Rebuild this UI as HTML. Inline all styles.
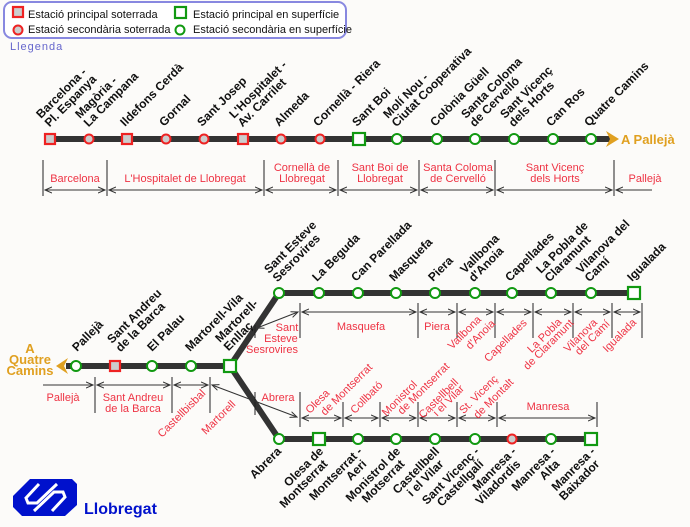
<!DOCTYPE html>
<html><head><meta charset="utf-8"><style>
html,body{margin:0;padding:0;background:#fcfbf9;}
svg{display:block;font-family:"Liberation Sans",Arial,sans-serif;}
.st{font-weight:bold;font-size:12px;fill:#111;}
.rd{font-size:11px;fill:#ee3344;}
.tk{stroke:#222;stroke-width:1;}
.dm{stroke:#333;stroke-width:1;fill:none;}
.gc{fill:#fff;stroke:#119911;stroke-width:2;}
.gs{fill:#fff;stroke:#119911;stroke-width:2.2;}
.rc{fill:#cccccc;stroke:#ee2222;stroke-width:2;}
.rs{fill:#cccccc;stroke:#ee2222;stroke-width:2.2;}
.ln{stroke:#333;stroke-width:6;fill:none;}
</style></head><body>
<svg width="690" height="527" viewBox="0 0 690 527" xmlns="http://www.w3.org/2000/svg">
<defs>
<marker id="ah" markerWidth="8" markerHeight="8" refX="7" refY="4" orient="auto-start-reverse" markerUnits="userSpaceOnUse">
<path d="M0,1 L7,4 L0,7" fill="none" stroke="#333" stroke-width="1"/></marker>
</defs>
<!-- Legend -->
<rect x="4" y="2" width="342" height="36" rx="8" fill="#fff" stroke="#8888e0" stroke-width="2"/>
<rect x="13" y="7" width="10" height="10" class="rs"/>
<text x="28" y="18" font-size="11" fill="#111">Estació principal soterrada</text>
<circle cx="18" cy="30" r="4.5" class="rc"/>
<text x="28" y="33" font-size="11" fill="#111">Estació secondària soterrada</text>
<rect x="175" y="7" width="11" height="11" class="gs"/>
<text x="193" y="18" font-size="11" fill="#111">Estació principal en superfície</text>
<circle cx="180" cy="30" r="4.5" class="gc"/>
<text x="193" y="33" font-size="11" fill="#111">Estació secondària en superfície</text>
<text x="10" y="50" font-size="11" fill="#6666cc" letter-spacing="1">Llegenda</text>

<!-- Line 1 -->
<line x1="44" y1="139" x2="610" y2="139" class="ln"/>
<path d="M606,131 L619,139 L606,147 L610,139 Z" fill="#e0a020"/>
<text x="621" y="144" font-size="13" font-weight="bold" fill="#e0a020">A Pallejà</text>
<rect x="45" y="134" width="10" height="10" class="rs"/>
<circle cx="89" cy="139" r="4.5" class="rc"/>
<rect x="122" y="134" width="10" height="10" class="rs"/>
<circle cx="166" cy="139" r="4.5" class="rc"/>
<circle cx="204" cy="139" r="4.5" class="rc"/>
<rect x="238" y="134" width="10" height="10" class="rs"/>
<circle cx="281" cy="139" r="4.5" class="rc"/>
<circle cx="320" cy="139" r="4.5" class="rc"/>
<rect x="353" y="133" width="12" height="12" class="gs"/>
<circle cx="397" cy="139" r="5" class="gc"/>
<circle cx="437" cy="139" r="5" class="gc"/>
<circle cx="475" cy="139" r="5" class="gc"/>
<circle cx="514" cy="139" r="5" class="gc"/>
<circle cx="553" cy="139" r="5" class="gc"/>
<circle cx="591" cy="139" r="5" class="gc"/>

<g class="st">
<text transform="translate(41,119) rotate(-45)"><tspan x="0" y="0">Barcelona -</tspan><tspan x="0" y="12">Pl. Espanya</tspan></text>
<text transform="translate(80,119) rotate(-45)"><tspan x="0" y="0">Magòria -</tspan><tspan x="0" y="12">La Campana</tspan></text>
<text transform="translate(125,127) rotate(-45)">Ildefons Cerdà</text>
<text transform="translate(164,127) rotate(-45)">Gornal</text>
<text transform="translate(202,127) rotate(-45)">Sant Josep</text>
<text transform="translate(234,119) rotate(-45)"><tspan x="0" y="0">L'Hospitalet -</tspan><tspan x="0" y="12">Av. Carrilet</tspan></text>
<text transform="translate(279,127) rotate(-45)">Almeda</text>
<text transform="translate(318,127) rotate(-45)">Cornellà - Riera</text>
<text transform="translate(357,127) rotate(-45)">Sant Boi</text>
<text transform="translate(388,119) rotate(-45)"><tspan x="0" y="0">Molí Nou -</tspan><tspan x="0" y="12">Ciutat Cooperativa</tspan></text>
<text transform="translate(435,127) rotate(-45)">Colònia Güell</text>
<text transform="translate(466,119) rotate(-45)"><tspan x="0" y="0">Santa Coloma</tspan><tspan x="0" y="12">de Cervelló</tspan></text>
<text transform="translate(505,119) rotate(-45)"><tspan x="0" y="0">Sant Vicenç</tspan><tspan x="0" y="12">dels Horts</tspan></text>
<text transform="translate(551,127) rotate(-45)">Can Ros</text>
<text transform="translate(589,127) rotate(-45)">Quatre Camins</text>
</g>

<!-- Line 1 dims -->
<g class="tk">
<line x1="43" y1="160" x2="43" y2="196"/><line x1="107" y1="160" x2="107" y2="196"/>
<line x1="264" y1="160" x2="264" y2="196"/><line x1="338" y1="160" x2="338" y2="196"/>
<line x1="419" y1="160" x2="419" y2="196"/><line x1="495" y1="160" x2="495" y2="196"/>
<line x1="614" y1="160" x2="614" y2="196"/>
</g>
<g class="dm">
<line x1="45" y1="190" x2="105" y2="190" marker-start="url(#ah)" marker-end="url(#ah)"/>
<line x1="109" y1="190" x2="262" y2="190" marker-start="url(#ah)" marker-end="url(#ah)"/>
<line x1="266" y1="190" x2="336" y2="190" marker-start="url(#ah)" marker-end="url(#ah)"/>
<line x1="340" y1="190" x2="417" y2="190" marker-start="url(#ah)" marker-end="url(#ah)"/>
<line x1="421" y1="190" x2="493" y2="190" marker-start="url(#ah)" marker-end="url(#ah)"/>
<line x1="497" y1="190" x2="612" y2="190" marker-start="url(#ah)" marker-end="url(#ah)"/>
<line x1="616" y1="190" x2="652" y2="190" marker-start="url(#ah)"/>
</g>
<g class="rd" text-anchor="middle">
<text x="75" y="182">Barcelona</text>
<text x="185" y="182">L'Hospitalet de Llobregat</text>
<text x="302" y="171">Cornellà de</text><text x="302" y="182">Llobregat</text>
<text x="380" y="171">Sant Boi de</text><text x="380" y="182">Llobregat</text>
<text x="458" y="171">Santa Coloma</text><text x="458" y="182">de Cervelló</text>
<text x="555" y="171">Sant Vicenç</text><text x="555" y="182">dels Horts</text>
<text x="645" y="182">Pallejà</text>
</g>

<!-- Line 2 -->
<path d="M66,366 L230,366 L279,293 L634,293" class="ln"/>
<path d="M230,366 L279,439 L591,439" class="ln"/>
<path d="M68,358 L56,366 L68,374 L64,366 Z" fill="#e0a020"/>
<g font-size="13" font-weight="bold" fill="#e0a020" text-anchor="middle">
<text x="30" y="353">A</text><text x="30" y="364">Quatre</text><text x="30" y="375">Camins</text>
</g>
<circle cx="76" cy="366" r="5" class="gc"/>
<rect x="110" y="361" width="10" height="10" class="rs"/>
<circle cx="152" cy="366" r="5" class="gc"/>
<circle cx="191" cy="366" r="5" class="gc"/>
<rect x="224" y="360" width="12" height="12" class="gs"/>
<circle cx="279" cy="293" r="5" class="gc"/>
<circle cx="319" cy="293" r="5" class="gc"/>
<circle cx="358" cy="293" r="5" class="gc"/>
<circle cx="396" cy="293" r="5" class="gc"/>
<circle cx="435" cy="293" r="5" class="gc"/>
<circle cx="475" cy="293" r="5" class="gc"/>
<circle cx="512" cy="293" r="5" class="gc"/>
<circle cx="551" cy="293" r="5" class="gc"/>
<circle cx="591" cy="293" r="5" class="gc"/>
<rect x="628" y="287" width="12" height="12" class="gs"/>
<circle cx="279" cy="439" r="5" class="gc"/>
<rect x="313" y="433" width="12" height="12" class="gs"/>
<circle cx="358" cy="439" r="5" class="gc"/>
<circle cx="396" cy="439" r="5" class="gc"/>
<circle cx="435" cy="439" r="5" class="gc"/>
<circle cx="475" cy="439" r="5" class="gc"/>
<circle cx="512" cy="439" r="4.5" class="rc"/>
<circle cx="551" cy="439" r="5" class="gc"/>
<rect x="585" y="433" width="12" height="12" class="gs"/>

<g class="st">
<text transform="translate(77,352) rotate(-45)">Pallejà</text>
<text transform="translate(112,344) rotate(-45)"><tspan x="0" y="0">Sant Andreu</tspan><tspan x="0" y="12">de la Barca</tspan></text>
<text transform="translate(152,352) rotate(-45)">El Palau</text>
<text transform="translate(190,352) rotate(-45)">Martorell-Vila</text>
<text transform="translate(220,343) rotate(-45)"><tspan x="0" y="0">Martorell-</tspan><tspan x="0" y="12">Enllaç</tspan></text>
<text transform="translate(269,274) rotate(-45)"><tspan x="0" y="0">Sant Esteve</tspan><tspan x="0" y="12">Sesrovires</tspan></text>
<text transform="translate(317,282) rotate(-45)">La Beguda</text>
<text transform="translate(356,282) rotate(-45)">Can Parellada</text>
<text transform="translate(394,282) rotate(-45)">Masquefa</text>
<text transform="translate(433,282) rotate(-45)">Piera</text>
<text transform="translate(465,274) rotate(-45)"><tspan x="0" y="0">Vallbona</tspan><tspan x="0" y="12">d'Anoia</tspan></text>
<text transform="translate(510,282) rotate(-45)">Capellades</text>
<text transform="translate(541,274) rotate(-45)"><tspan x="0" y="0">La Pobla de</tspan><tspan x="0" y="12">Claramunt</tspan></text>
<text transform="translate(581,274) rotate(-45)"><tspan x="0" y="0">Vilanova del</tspan><tspan x="0" y="12">Camí</tspan></text>
<text transform="translate(632,282) rotate(-45)">Igualada</text>
</g>
<g class="st" text-anchor="end">
<text transform="translate(282,452) rotate(-45)">Abrera</text>
<text transform="translate(324,452) rotate(-45)"><tspan x="0" y="0">Olesa de</tspan><tspan x="-6" y="12">Montserrat</tspan></text>
<text transform="translate(363,452) rotate(-45)"><tspan x="0" y="0">Montserrat -</tspan><tspan x="-6" y="12">Aeri</tspan></text>
<text transform="translate(401,452) rotate(-45)"><tspan x="0" y="0">Monistrol de</tspan><tspan x="-6" y="12">Motserrat</tspan></text>
<text transform="translate(440,452) rotate(-45)"><tspan x="0" y="0">Castellbell</tspan><tspan x="-6" y="12">i el Vilar</tspan></text>
<text transform="translate(480,452) rotate(-45)"><tspan x="0" y="0">Sant Vicenç -</tspan><tspan x="-6" y="12">Castellgalí</tspan></text>
<text transform="translate(517,452) rotate(-45)"><tspan x="0" y="0">Manresa -</tspan><tspan x="-6" y="12">Viladordis</tspan></text>
<text transform="translate(556,452) rotate(-45)"><tspan x="0" y="0">Manresa -</tspan><tspan x="-6" y="12">Alta</tspan></text>
<text transform="translate(596,452) rotate(-45)"><tspan x="0" y="0">Manresa -</tspan><tspan x="-6" y="12">Baixador</tspan></text>
</g>

<!-- Line 2 dims -->
<g class="tk">
<line x1="95" y1="377" x2="95" y2="413"/><line x1="172" y1="377" x2="172" y2="413"/><line x1="210" y1="377" x2="210" y2="413"/>
<line x1="255" y1="392" x2="255" y2="415"/><line x1="300" y1="392" x2="300" y2="427"/>
<line x1="343" y1="402" x2="343" y2="427"/><line x1="380" y1="402" x2="380" y2="427"/>
<line x1="418" y1="402" x2="418" y2="427"/><line x1="457" y1="402" x2="457" y2="427"/>
<line x1="497" y1="402" x2="497" y2="427"/><line x1="597" y1="402" x2="597" y2="427"/>
<line x1="255" y1="325" x2="255" y2="338"/><line x1="300" y1="303" x2="300" y2="338"/>
<line x1="418" y1="303" x2="418" y2="338"/><line x1="457" y1="303" x2="457" y2="338"/>
<line x1="495" y1="303" x2="495" y2="338"/><line x1="533" y1="303" x2="533" y2="338"/>
<line x1="573" y1="303" x2="573" y2="338"/><line x1="612" y1="303" x2="612" y2="338"/>
<line x1="642" y1="303" x2="642" y2="338"/>
</g>
<g class="dm">
<line x1="43" y1="385" x2="93" y2="385" marker-end="url(#ah)"/>
<line x1="97" y1="385" x2="170" y2="385" marker-start="url(#ah)" marker-end="url(#ah)"/>
<line x1="174" y1="385" x2="208" y2="385" marker-start="url(#ah)" marker-end="url(#ah)"/>
<line x1="212" y1="385" x2="297" y2="417" marker-start="url(#ah)" marker-end="url(#ah)"/>
<line x1="302" y1="418" x2="341" y2="418" marker-start="url(#ah)" marker-end="url(#ah)"/>
<line x1="345" y1="418" x2="378" y2="418" marker-start="url(#ah)" marker-end="url(#ah)"/>
<line x1="382" y1="418" x2="416" y2="418" marker-start="url(#ah)" marker-end="url(#ah)"/>
<line x1="420" y1="418" x2="455" y2="418" marker-start="url(#ah)" marker-end="url(#ah)"/>
<line x1="459" y1="418" x2="495" y2="418" marker-start="url(#ah)" marker-end="url(#ah)"/>
<line x1="499" y1="418" x2="595" y2="418" marker-start="url(#ah)" marker-end="url(#ah)"/>
<line x1="257" y1="328" x2="298" y2="312" marker-start="url(#ah)" marker-end="url(#ah)"/>
<line x1="302" y1="312" x2="416" y2="312" marker-start="url(#ah)" marker-end="url(#ah)"/>
<line x1="420" y1="312" x2="455" y2="312" marker-start="url(#ah)" marker-end="url(#ah)"/>
<line x1="459" y1="312" x2="493" y2="312" marker-start="url(#ah)" marker-end="url(#ah)"/>
<line x1="497" y1="312" x2="531" y2="312" marker-start="url(#ah)" marker-end="url(#ah)"/>
<line x1="535" y1="312" x2="571" y2="312" marker-start="url(#ah)" marker-end="url(#ah)"/>
<line x1="575" y1="312" x2="610" y2="312" marker-start="url(#ah)" marker-end="url(#ah)"/>
<line x1="614" y1="312" x2="640" y2="312" marker-start="url(#ah)" marker-end="url(#ah)"/>
</g>
<g class="rd" text-anchor="middle">
<text x="63" y="401">Pallejà</text>
<text x="133" y="401">Sant Andreu</text><text x="133" y="412">de la Barca</text>
<text x="287" y="331">Sant</text><text x="281" y="342">Esteve</text><text x="272" y="353">Sesrovires</text>
<text x="361" y="330">Masquefa</text>
<text x="437" y="330">Piera</text>
<text x="278" y="401">Abrera</text>
<text x="548" y="410">Manresa</text>
<text transform="translate(184,416) rotate(-45)">Castellbisbal</text>
<text transform="translate(221,420) rotate(-45)">Martorell</text>
<text transform="translate(320,404) rotate(-45)">Olesa</text>
<text transform="translate(349,392) rotate(-45)">de Montserrat</text>
<text transform="translate(369,400) rotate(-45)">Collbató</text>
<text transform="translate(402,401) rotate(-45)">Monistrol</text>
<text transform="translate(426,391) rotate(-45)">de Montserrat</text>
<text transform="translate(441,401) rotate(-45)">Castellbell</text>
<text transform="translate(451,403) rotate(-45)">i el Vilar</text>
<text transform="translate(481,397) rotate(-45)">St. Vicenç</text>
<text transform="translate(496,401) rotate(-45)">de Montalt</text>
<text transform="translate(467,335) rotate(-45)">Vallbona</text>
<text transform="translate(483,337) rotate(-45)">d'Anoia</text>
<text transform="translate(508,343) rotate(-45)">Capellades</text>
<text transform="translate(547,338) rotate(-45)">La Pobla</text>
<text transform="translate(551,347) rotate(-45)">de Claramunt</text>
<text transform="translate(583,338) rotate(-45)">Vilanova</text>
<text transform="translate(595,340) rotate(-45)">del Camí</text>
<text transform="translate(622,338) rotate(-45)">Igualada</text>
</g>

<!-- Logo -->
<path d="M30,479 L72,479 L77,484 L77,505 L65,516 L22,516 L13,507 L13,496 Z" fill="#0011cc"/>
<g fill="none" stroke="#fff" stroke-width="3" stroke-linejoin="miter">
<path d="M39,484 L26,498 L28,503 L37,503 L57,484"/>
<path d="M52,511 L65,497 L63,492 L54,492 L34,511"/>
</g>
<text x="84" y="514" font-size="16" font-weight="bold" fill="#0011cc">Llobregat</text>
</svg>
</body></html>
